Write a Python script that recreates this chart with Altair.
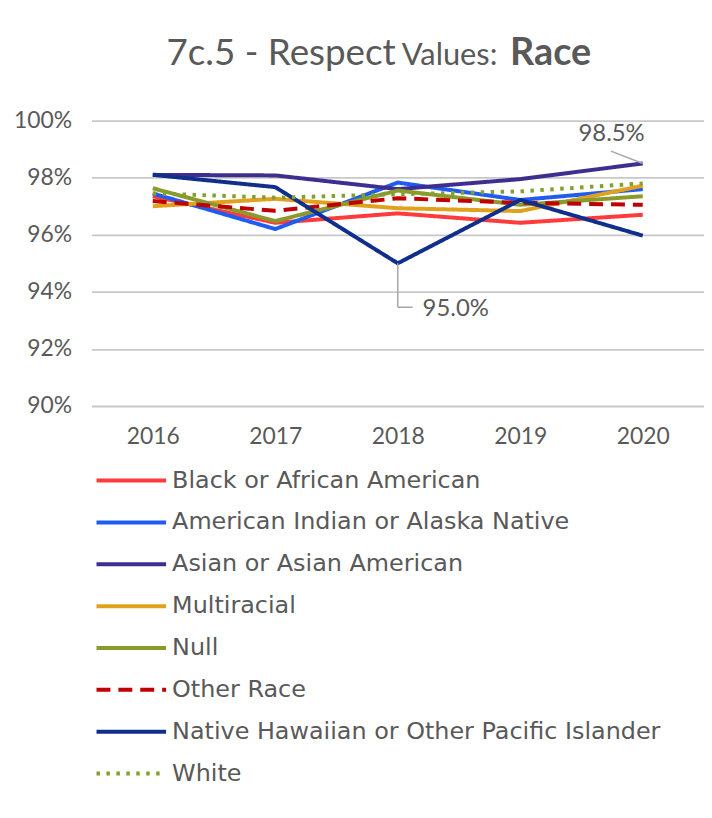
import altair as alt
import pandas as pd

years = ["2016", "2017", "2018", "2019", "2020"]
groups = [
    "Black or African American",
    "American Indian or Alaska Native",
    "Asian or Asian American",
    "Multiracial",
    "Null",
    "Other Race",
    "Native Hawaiian or Other Pacific Islander",
    "White",
]
# values in percent
black = [97.35, 96.42, 96.75, 96.42, 96.70]
am_indian = [97.45, 96.20, 97.83, 97.22, 97.60]
asian = [98.10, 98.08, 97.60, 97.95, 98.50]
multiracial = [97.00, 97.26, 96.93, 96.83, 97.72]
null = [97.63, 96.48, 97.55, 97.05, 97.35]
other_race = [97.18, 96.84, 97.28, 97.12, 97.05]
hawaiian = [98.10, 97.67, 95.00, 97.22, 95.97]
white = [97.45, 97.30, 97.42, 97.52, 97.80]
series = [black, am_indian, asian, multiracial, null, other_race, hawaiian, white]

colors = ["#FF3B3B", "#1E5CF2", "#3D2E8F", "#E0A21C", "#8A9A2B", "#C00000", "#102F8C", "#82A032"]
dashes = [[1, 0], [1, 0], [1, 0], [1, 0], [1, 0], [14, 8], [1, 0], [3.5, 6.5]]

y_ticks = [0.90, 0.92, 0.94, 0.96, 0.98, 1.00]

FONT = "Lato"
LEG_FONT = "DejaVu Sans"
GREY = "#595959"

rows = []
for gi, (g, vals) in enumerate(zip(groups, series)):
    for y, v in zip(years, vals):
        rows.append({"group": g, "year": y, "value": v / 100.0, "k": gi})
df = pd.DataFrame(rows)

legend = alt.Legend(
    orient="none", legendX=26, legendY=348, direction="vertical", title=None,
    symbolType="M-3,0H3", symbolSize=544, symbolStrokeWidth=4,
    labelFont=LEG_FONT, labelFontSize=24, labelColor=GREY, labelLimit=700,
    labelOffset=27, rowPadding=16.1, padding=0,
)

xscale = alt.Scale(type="point", padding=0.5)
yscale = alt.Scale(domain=[0.9, 1.0])

x_enc = alt.X("year:O", scale=xscale, sort=years,
              axis=alt.Axis(title=None, labelAngle=0, ticks=False, domain=False, grid=False,
                            labelFont=FONT, labelFontSize=23, labelColor=GREY, labelPadding=20))
y_enc = alt.Y("value:Q", scale=yscale,
              axis=alt.Axis(title=None, format=".0%", values=y_ticks, ticks=False, domain=False,
                            grid=True, gridColor="#C8C8C8", gridWidth=1.8,
                            labelFont=FONT, labelFontSize=23, labelColor=GREY, labelPadding=20))

lines = alt.Chart(df).mark_line(strokeWidth=4, strokeCap="butt", strokeJoin="round").encode(
    x=x_enc,
    y=y_enc,
    color=alt.Color("group:N", scale=alt.Scale(domain=groups, range=colors), legend=legend),
    strokeDash=alt.StrokeDash("group:N", scale=alt.Scale(domain=groups, range=dashes), legend=legend),
    detail="k:O",
)

# annotations
ann_max = pd.DataFrame({"year": ["2020"], "v": [asian[4] / 100], "lab": [f"{asian[4]:.1f}%"],
                        "ty": [0.9952], "ly": [0.9893]})
ann_min = pd.DataFrame({"year": ["2018"], "v": [hawaiian[2] / 100], "lab": [f"{hawaiian[2]:.1f}%"],
                        "ty": [0.9346]})

lead_max = alt.Chart(ann_max).mark_rule(color="#A6A6A6", strokeWidth=1.5, xOffset=-32).encode(
    x=alt.X("year:O", scale=xscale, sort=years), x2="year", y=alt.Y("ly:Q", scale=yscale), y2="v")
text_max = alt.Chart(ann_max).mark_text(align="right", baseline="middle", dx=2, font=FONT,
                                        fontSize=24, color=GREY).encode(
    x=alt.X("year:O", scale=xscale, sort=years), y=alt.Y("ty:Q", scale=yscale), text="lab:N")

lead_min_v = alt.Chart(ann_min).mark_rule(color="#A6A6A6", strokeWidth=1.5).encode(
    x=alt.X("year:O", scale=xscale, sort=years), y=alt.Y("v:Q", scale=yscale), y2="ty")
lead_min_h = alt.Chart(ann_min).mark_rule(color="#A6A6A6", strokeWidth=1.5, x2Offset=15).encode(
    x=alt.X("year:O", scale=xscale, sort=years), x2="year", y=alt.Y("ty:Q", scale=yscale))
text_min = alt.Chart(ann_min).mark_text(align="left", baseline="middle", dx=25, dy=2, font=FONT,
                                        fontSize=24, color=GREY).encode(
    x=alt.X("year:O", scale=xscale, sort=years), y=alt.Y("ty:Q", scale=yscale), text="lab:N")

# title pieces
title_src = pd.DataFrame({"t": ["7c.5 - Respect", "Values:", "Race"]})
t1 = alt.Chart(title_src).transform_filter("datum.t == '7c.5 - Respect'").mark_text(
    align="right", baseline="alphabetic", font=FONT, fontSize=37, color=GREY).encode(
    text="t:N", x=alt.value(306), y=alt.value(-56))
t2 = alt.Chart(title_src).transform_filter("datum.t == 'Values:'").mark_text(
    align="left", baseline="alphabetic", font=FONT, fontSize=31, color=GREY).encode(
    text="t:N", x=alt.value(312), y=alt.value(-56))
t3 = alt.Chart(title_src).transform_filter("datum.t == 'Race'").mark_text(
    align="left", baseline="alphabetic", font=FONT, fontSize=38, fontWeight="bold", color=GREY).encode(
    text="t:N", x=alt.value(421), y=alt.value(-56))

chart = alt.layer(lines, lead_max, text_max, lead_min_v, lead_min_h, text_min, t1, t2, t3).properties(
    width=616, height=287,
    autosize=alt.AutoSizeParams(type="none"),
    padding={"left": 84, "top": 111, "right": 0, "bottom": 394},
    background="white",
).configure_view(stroke=None)

chart.save("out.html", embed_options={"renderer": "svg", "actions": False})
